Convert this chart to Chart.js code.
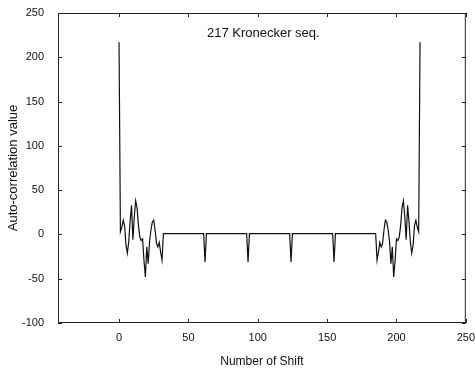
<!DOCTYPE html>
<html>
<head>
<meta charset="utf-8">
<script src="https://cdn.jsdelivr.net/npm/chart.js@4/dist/chart.umd.min.js"></script>
<style>
  html, body { margin: 0; padding: 0; background: #fff; }
  #wrap { width: 475px; height: 371px; }
</style>
</head>
<body>
<div id="wrap"><canvas id="c" width="475" height="371"></canvas></div>
<script>
// auto-correlation value for shifts 0..217 (index = shift)
const corr = [
  217, 3, 8, 16, 10, -12, -21, -8, 15, 33, -6, 20, 38, 30, 10, -3,
  -7, -5, -30, -48, -14, -33, -8, 5, 14, 16, 5, -10, -14, -9, -20, -29,
  1, 1, 1, 1, 1, 1, 1, 1, 1, 1, 1, 1, 1, 1, 1, 1,
  1, 1, 1, 1, 1, 1, 1, 1, 1, 1, 1, 1, 1, 1, -31, 1,
  1, 1, 1, 1, 1, 1, 1, 1, 1, 1, 1, 1, 1, 1, 1, 1,
  1, 1, 1, 1, 1, 1, 1, 1, 1, 1, 1, 1, 1, -31, 1, 1,
  1, 1, 1, 1, 1, 1, 1, 1, 1, 1, 1, 1, 1, 1, 1, 1,
  1, 1, 1, 1, 1, 1, 1, 1, 1, 1, 1, 1, -31, 1, 1, 1,
  1, 1, 1, 1, 1, 1, 1, 1, 1, 1, 1, 1, 1, 1, 1, 1,
  1, 1, 1, 1, 1, 1, 1, 1, 1, 1, 1, -31, 1, 1, 1, 1,
  1, 1, 1, 1, 1, 1, 1, 1, 1, 1, 1, 1, 1, 1, 1, 1,
  1, 1, 1, 1, 1, 1, 1, 1, 1, 1, -29, -20, -9, -14, -10, 5,
  16, 14, 5, -8, -33, -14, -48, -30, -5, -7, -3, 10, 30, 38, 20, -6,
  33, 15, -8, -21, -12, 10, 16, 8, 3, 217
];
const xTicks = [0, 50, 100, 150, 200, 250];
const yTicks = [-100, -50, 0, 50, 100, 150, 200, 250];
const noteText = '217 Kronecker seq.';
const notePos = { x: 104, y: 227 };

const points = corr.map((v, i) => ({ x: i, y: v }));

const frame = {
  id: 'frame',
  afterDraw(chart) {
    const { ctx, chartArea: a, scales } = chart;
    ctx.save();
    ctx.strokeStyle = '#222';
    ctx.lineWidth = 1;
    ctx.strokeRect(a.left + 0.5, a.top + 0.5, a.right - a.left - 1, a.bottom - a.top - 1);
    ctx.beginPath();
    xTicks.forEach(v => {
      const px = Math.round(scales.x.getPixelForValue(v)) + 0.5;
      ctx.moveTo(px, a.bottom); ctx.lineTo(px, a.bottom - 4);
      ctx.moveTo(px, a.top); ctx.lineTo(px, a.top + 4);
    });
    yTicks.forEach(v => {
      const py = Math.round(scales.y.getPixelForValue(v)) + 0.5;
      ctx.moveTo(a.left, py); ctx.lineTo(a.left + 4, py);
      ctx.moveTo(a.right, py); ctx.lineTo(a.right - 4, py);
    });
    ctx.stroke();
    ctx.fillStyle = '#111';
    ctx.font = '13px "Liberation Sans", Arial, sans-serif';
    ctx.textAlign = 'center';
    ctx.textBaseline = 'middle';
    ctx.fillText(noteText, scales.x.getPixelForValue(notePos.x), scales.y.getPixelForValue(notePos.y));
    ctx.restore();
  }
};

new Chart(document.getElementById('c'), {
  type: 'line',
  data: {
    datasets: [{
      data: points,
      borderColor: '#111',
      borderWidth: 1.2,
      pointRadius: 0,
      tension: 0,
      fill: false
    }]
  },
  options: {
    responsive: false,
    animation: false,
    events: [],
    layout: { padding: { top: 13, right: 9, left: 0, bottom: 0 } },
    plugins: { legend: { display: false }, tooltip: { enabled: false } },
    scales: {
      x: {
        type: 'linear',
        min: -44,
        max: 250,
        afterBuildTicks: s => { s.ticks = xTicks.map(v => ({ value: v })); },
        afterFit: s => { s.height = 48; },
        grid: { display: false },
        border: { display: false },
        ticks: { color: '#111', padding: 0, font: { family: '"Liberation Sans", Arial', size: 11 } },
        title: {
          display: true,
          text: 'Number of Shift',
          color: '#111',
          padding: { top: 2, bottom: 2 },
          font: { family: '"Liberation Sans", Arial', size: 12 }
        }
      },
      y: {
        min: -100,
        max: 250,
        afterBuildTicks: s => { s.ticks = yTicks.map(v => ({ value: v })); },
        afterFit: s => { s.width = 58; },
        grid: { display: false },
        border: { display: false },
        ticks: { color: '#111', padding: 6, font: { family: '"Liberation Sans", Arial', size: 11 } },
        title: {
          display: true,
          text: 'Auto-correlation value',
          color: '#111',
          padding: { top: 6, bottom: 0 },
          font: { family: '"Liberation Sans", Arial', size: 13 }
        }
      }
    }
  },
  plugins: [frame]
});
</script>
</body>
</html>
